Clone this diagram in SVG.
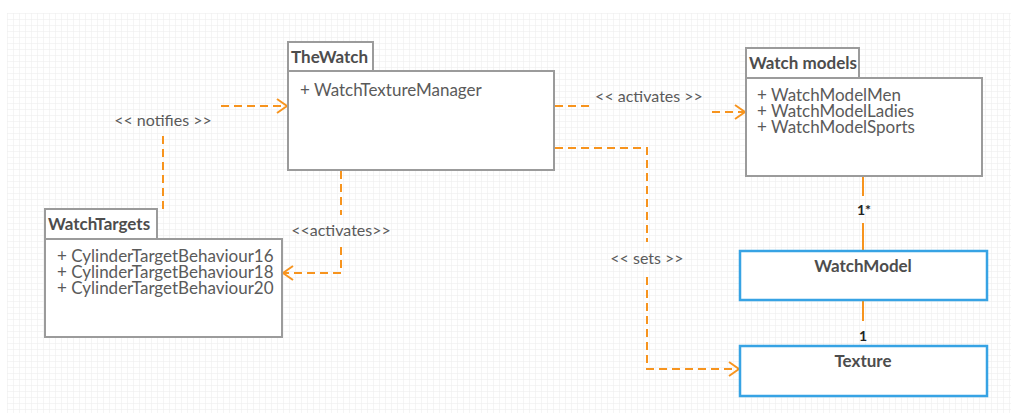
<svg xmlns="http://www.w3.org/2000/svg" width="1011" height="417" viewBox="0 0 1011 417">
<defs>
<pattern id="grid" x="7" y="13" width="6" height="6" patternUnits="userSpaceOnUse">
<path d="M0 0H6M0 0V6" fill="none" stroke="#ececec" stroke-width="1"/>
</pattern>
<marker id="open" viewBox="0 0 12 16" refX="11" refY="8" markerWidth="12" markerHeight="16" markerUnits="userSpaceOnUse" orient="auto">
<path d="M1 1 L11 8 L1 15" fill="none" stroke="#f7941e" stroke-width="2"/>
</marker>
<style>
.pkg{fill:#fff;stroke:#9b9b9b;stroke-width:2}
.cls{fill:#fff;stroke:#37a3e4;stroke-width:2.5}
.title{font-family:Lato,"Liberation Sans",sans-serif;font-weight:bold;font-size:17px;fill:#4d4d4d}
.attr{font-family:Lato,"Liberation Sans",sans-serif;font-size:17px;fill:#5a5a5a}
.lbl{font-family:Lato,"Liberation Sans",sans-serif;font-size:16px;fill:#5a5a5a}
.mult{font-family:Lato,"Liberation Sans",sans-serif;font-weight:bold;font-size:14px;fill:#222}
.dash{fill:none;stroke:#f7941e;stroke-width:2;stroke-dasharray:8 5}
.solid{fill:none;stroke:#f7941e;stroke-width:2}
</style>
</defs>
<rect width="1011" height="417" fill="#fff"/>
<rect x="7" y="13" width="1004" height="400" fill="url(#grid)"/>

<g id="connectors">
<path class="dash" d="M163 209 V135"/>
<path class="dash" d="M221 106 H287" marker-end="url(#open)"/>
<text class="lbl" x="163" y="126" text-anchor="middle">&lt;&lt; notifies &gt;&gt;</text>

<path class="dash" d="M555 106 H590"/>
<path class="dash" d="M712 112 H745" marker-end="url(#open)"/>
<text class="lbl" x="649" y="102" text-anchor="middle">&lt;&lt; activates &gt;&gt;</text>

<path class="dash" d="M555 148 H647 V242"/>
<path class="dash" d="M647 277 V369 H739" marker-end="url(#open)"/>
<text class="lbl" x="647" y="264" text-anchor="middle">&lt;&lt; sets &gt;&gt;</text>

<path class="dash" d="M341 171 V215"/>
<path class="dash" d="M341 247 V273 H283" marker-end="url(#open)"/>
<text class="lbl" x="341" y="236" text-anchor="middle">&lt;&lt;activates&gt;&gt;</text>

<path class="solid" d="M863 177 V196"/>
<path class="solid" d="M863 223 V250"/>
<text class="mult" x="864" y="215" text-anchor="middle">1*</text>

<path class="solid" d="M863 301 V321"/>
<text class="mult" x="863" y="341" text-anchor="middle">1</text>
</g>

<g id="TheWatch">
<rect class="pkg" x="288" y="42" width="85" height="29"/>
<rect class="pkg" x="288" y="71" width="266" height="99"/>
<text class="title" x="291" y="63">TheWatch</text>
<text class="attr" x="300" y="96">+ WatchTextureManager</text>
</g>

<g id="WatchModels">
<rect class="pkg" x="746" y="48" width="113" height="30"/>
<rect class="pkg" x="746" y="78" width="236" height="98"/>
<text class="title" x="749" y="69">Watch models</text>
<text class="attr" x="757" y="101">+ WatchModelMen</text>
<text class="attr" x="757" y="117">+ WatchModelLadies</text>
<text class="attr" x="757" y="133">+ WatchModelSports</text>
</g>

<g id="WatchTargets">
<rect class="pkg" x="45" y="209" width="112" height="30"/>
<rect class="pkg" x="45" y="239" width="237" height="98"/>
<text class="title" x="48" y="230">WatchTargets</text>
<text class="attr" x="57" y="262">+ CylinderTargetBehaviour16</text>
<text class="attr" x="57" y="278">+ CylinderTargetBehaviour18</text>
<text class="attr" x="57" y="294">+ CylinderTargetBehaviour20</text>
</g>

<g id="WatchModel">
<rect class="cls" x="740" y="251" width="247" height="49"/>
<text class="title" x="863" y="272" text-anchor="middle">WatchModel</text>
</g>

<g id="Texture">
<rect class="cls" x="740" y="346" width="247" height="50"/>
<text class="title" x="863" y="367" text-anchor="middle">Texture</text>
</g>
</svg>
